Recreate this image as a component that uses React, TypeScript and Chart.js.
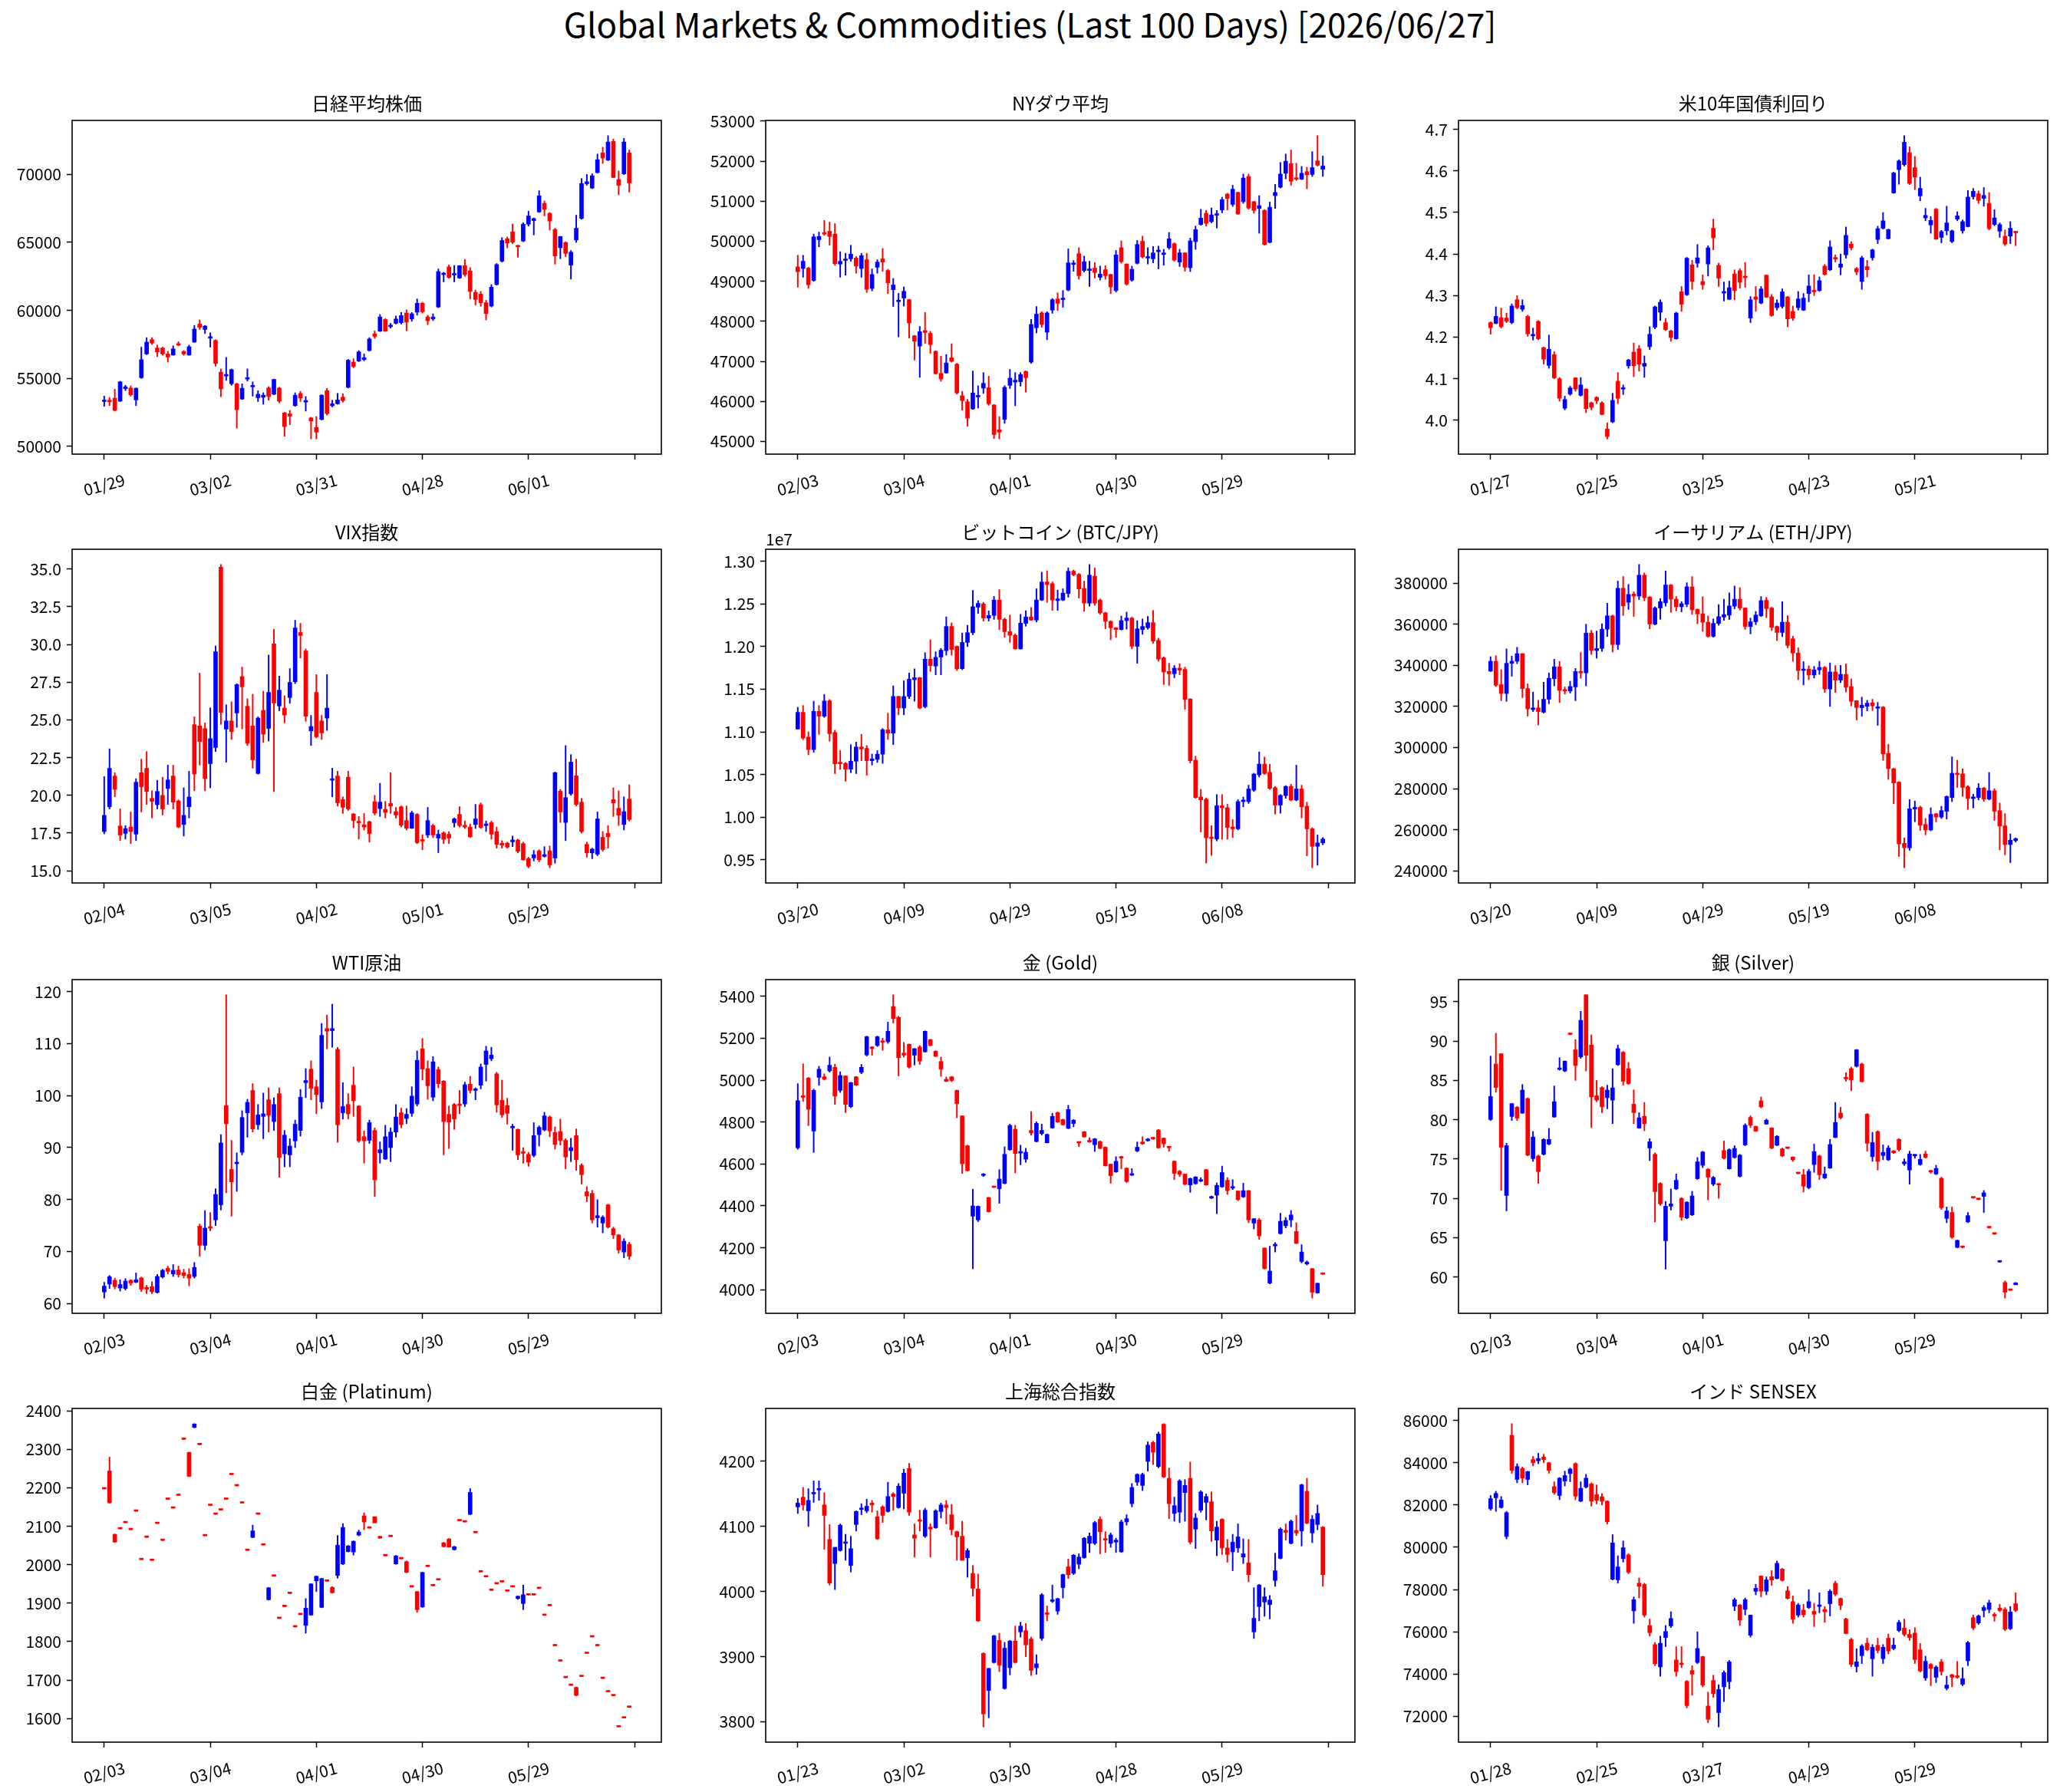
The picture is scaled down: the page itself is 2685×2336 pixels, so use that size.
import React, { useEffect, useRef } from "react";
import { Chart, registerables } from "chart.js";

Chart.register(...registerables);

// Candle tuples: [open, high, low, close]
type Candle = [number, number, number, number];

const FONT = '"Noto Sans CJK JP", "Noto Sans", sans-serif';
Chart.defaults.font.family = FONT;
const UP = "#0000ff";
const DOWN = "#ff0000";

const SUPTITLE = "Global Markets & Commodities (Last 100 Days) [2026/06/27]";

const NIKKEI_DATES = ["01/29", "03/02", "03/31", "04/28", "06/01"];
const DOW_DATES = ["02/03", "03/04", "04/01", "04/30", "05/29"];
const UST10Y_DATES = ["01/27", "02/25", "03/25", "04/23", "05/21"];
const VIX_DATES = ["02/04", "03/05", "04/02", "05/01", "05/29"];
const CRYPTO_DATES = ["03/20", "04/09", "04/29", "05/19", "06/08"];
const COMMODITY_DATES = ["02/03", "03/04", "04/01", "04/30", "05/29"];
const SHANGHAI_DATES = ["01/23", "03/02", "03/30", "04/28", "05/29"];
const SENSEX_DATES = ["01/28", "02/25", "03/27", "04/29", "05/29"];

const NIKKEI: Candle[] = [
  [53300,53700,52950,53400],[53400,53600,53000,53280],[53550,54200,52600,52650],[53330,54800,53300,54750],[54250,54500,54100,54380],
  [54300,54450,53700,53800],[53420,54300,53000,54280],[55050,57300,55000,56380],[56800,58000,56750,57670],[57850,58000,57500,57600],
  [57240,57450,56600,56950],[57240,57300,56700,56800],[56800,57000,56200,56570],[56720,57400,56700,57170],[57550,57700,57400,57450],
  [56980,57050,56700,56800],[56720,57450,56700,57330],[57670,58900,57650,58630],[59000,59300,58600,58760],[58600,58900,58300,58850],
  [57960,58350,57300,58070],[57800,57850,55900,56100],[55460,55700,53650,54230],[55180,56550,54850,55290],[54610,55700,54500,55650],
  [54600,54650,51350,52700],[53480,54600,53450,54280],[54950,55700,54800,55050],[54380,54750,53700,54480],[53580,54100,53300,53840],
  [53620,53950,53100,53770],[54300,54400,53400,53670],[53840,54950,53800,54930],[54300,54350,53200,53330],[52470,52500,50750,51460],
  [52400,52650,51600,52230],[53000,53950,52950,53770],[53900,54050,53300,53560],[53260,53670,52600,53370],[52100,52150,50550,51870],
  [51400,52200,50550,51050],[51980,53800,51950,53770],[54100,54270,52300,52420],[52990,53400,52900,53140],[53140,53900,53100,53420],
  [53620,53870,53250,53370],[54340,56400,54300,56340],[56200,56450,55780,55870],[56280,57050,56230,56950],[56380,56800,56300,56530],
  [57050,58000,57000,57900],[58280,58500,57950,58090],[58470,59700,58450,59520],[59330,59400,58450,58470],[58800,59050,58700,58920],
  [59050,59600,59000,59370],[59100,59850,59000,59620],[59810,60050,58500,59140],[59370,59850,59200,59750],[59870,60850,59650,60530],
  [60530,60600,59800,59900],[59520,59650,58950,59240],[59370,59750,59250,59520],[60250,63050,60200,62860],[62630,62800,62100,62720],
  [63200,63350,62350,62420],[62600,63300,62100,62720],[62380,63300,62350,63290],[63290,63750,62500,62630],[62900,63150,60850,61400],
  [61330,61500,60400,60800],[61200,61400,60300,60570],[60570,60750,59300,59770],[60320,61900,60250,61710],[61900,63450,61850,63370],
  [63620,65350,63550,65140],[65270,65400,64600,64950],[65770,66350,64900,65010],[64760,64800,63900,64670],[65100,66450,65050,66340],
  [66340,67300,66200,66950],[66600,66800,65550,66750],[67240,68800,67200,68420],[67870,68050,66950,67430],[67140,67200,65900,66570],
  [65940,66050,63400,64000],[64610,65450,63800,65430],[64990,65050,63950,64190],[63330,64400,62300,64280],[65180,67000,65000,66040],
  [66760,69700,66700,69330],[69310,70000,69200,69460],[68990,70050,68950,69900],[70130,71500,70100,71080],[71580,72000,70800,71200],
  [71050,72850,71000,72380],[72420,72600,69750,69770],[69620,70250,68500,69200],[70040,72650,69990,72380],[71580,71800,68700,69370],
];

const DOW: Candle[] = [
  [49360,49650,48850,49240],[49320,49650,49100,49500],[49330,49350,48820,48915],[49020,50180,49000,50110],[50040,50230,49860,50120],
  [50210,50520,50150,50180],[50250,50480,49900,50120],[50180,50440,49400,49440],[49430,49740,49100,49500],[49520,49700,49150,49540],
  [49560,49900,49500,49680],[49580,49620,49200,49380],[49320,49700,49100,49640],[49540,49700,48720,48800],[48820,49310,48760,49170],
  [49350,49540,49200,49480],[49560,49820,49250,49480],[49270,49300,48690,48960],[48790,49070,48370,48910],[48490,48700,47610,48510],
  [48580,48860,48380,48750],[48540,48550,47580,47960],[47640,47650,47030,47500],[47380,47870,46600,47740],[47770,48220,47450,47720],
  [47700,47750,47200,47420],[47250,47260,46680,46690],[46700,47130,46500,46560],[46710,47170,46700,46960],[47090,47440,46980,47000],
  [46930,46950,46180,46210],[46140,46250,45780,46020],[45990,46050,45380,45580],[45810,46760,45800,46210],[46110,46390,45830,46130],
  [46330,46720,46200,46450],[46340,46630,45900,45940],[45910,45920,45070,45170],[45290,45620,45060,45230],[45550,46390,45450,46350],
  [46400,46800,46320,46580],[46480,46720,45890,46530],[46490,46720,46380,46670],[46750,46760,46230,46590],[46980,48050,46950,47920],
  [47840,48370,47710,48180],[48210,48240,47850,47920],[47730,48240,47540,48210],[48280,48570,48200,48540],[48560,48710,48270,48450],
  [48540,48770,48350,48580],[48780,49810,48760,49460],[49420,49520,49250,49450],[49690,49840,49050,49140],[49270,49630,49230,49490],
  [49270,49500,48870,49300],[49330,49470,49080,49220],[49100,49380,49030,49180],[49290,49390,49050,49140],[49170,49180,48690,48860],
  [48770,49770,48730,49660],[49840,50010,49450,49490],[49430,49440,48900,48930],[49030,49380,49000,49300],[49450,50020,49430,49920],
  [50000,50130,49580,49610],[49580,49840,49430,49610],[49560,49870,49460,49710],[49740,49880,49310,49780],[49670,49800,49400,49700],
  [49840,50220,49800,50060],[49940,49960,49500,49530],[49480,49800,49370,49710],[49710,49720,49250,49350],[49340,50080,49240,50010],
  [49990,50380,49800,50290],[50420,50800,50400,50580],[50700,50770,50380,50450],[50490,50830,50460,50660],[50650,50770,50330,50670],
  [50780,51100,50710,51040],[51180,51200,50780,51070],[50920,51400,50870,51300],[51220,51230,50670,50680],[50990,51680,50950,51580],
  [51620,51680,50800,50830],[50990,51000,50700,50770],[50820,51140,50200,50890],[50770,50790,49900,49920],[49970,50980,49960,50850],
  [51140,51420,50820,51220],[51350,51970,51330,51680],[51700,52180,51560,52000],[51940,52280,51400,51500],[51580,51950,51520,51550],
  [51550,51870,51540,51700],[51740,51850,51310,51660],[51670,52240,51620,51840],[52010,52640,51880,51900],[51800,52130,51620,51880],
];

const UST10Y: Candle[] = [
  [4.235,4.237,4.207,4.223],[4.233,4.273,4.232,4.250],[4.247,4.270,4.222,4.225],[4.246,4.258,4.235,4.238],[4.235,4.280,4.232,4.275],
  [4.290,4.300,4.268,4.271],[4.267,4.290,4.262,4.276],[4.250,4.253,4.202,4.208],[4.203,4.222,4.193,4.206],[4.238,4.240,4.194,4.196],
  [4.175,4.176,4.135,4.147],[4.132,4.205,4.125,4.171],[4.158,4.165,4.100,4.102],[4.100,4.103,4.046,4.053],[4.029,4.058,4.025,4.050],
  [4.063,4.082,4.060,4.078],[4.102,4.103,4.070,4.075],[4.060,4.103,4.058,4.085],[4.075,4.076,4.018,4.028],[4.042,4.044,4.025,4.031],
  [4.055,4.057,4.040,4.047],[4.042,4.045,4.013,4.014],[3.979,3.994,3.955,3.961],[3.996,4.065,3.994,4.048],[4.094,4.115,4.040,4.053],
  [4.075,4.085,4.062,4.078],[4.131,4.147,4.125,4.145],[4.164,4.186,4.105,4.131],[4.172,4.180,4.118,4.135],[4.130,4.155,4.103,4.137],
  [4.177,4.225,4.170,4.207],[4.224,4.275,4.220,4.273],[4.260,4.290,4.240,4.284],[4.235,4.245,4.216,4.218],[4.215,4.217,4.190,4.199],
  [4.196,4.260,4.195,4.258],[4.309,4.322,4.262,4.279],[4.302,4.392,4.300,4.390],[4.374,4.385,4.315,4.334],[4.378,4.423,4.368,4.391],
  [4.334,4.350,4.315,4.326],[4.376,4.420,4.347,4.415],[4.462,4.484,4.410,4.439],[4.373,4.378,4.322,4.342],[4.306,4.333,4.287,4.310],
  [4.291,4.335,4.290,4.319],[4.352,4.362,4.290,4.312],[4.360,4.365,4.318,4.332],[4.346,4.380,4.320,4.343],[4.246,4.298,4.235,4.290],
  [4.297,4.322,4.262,4.291],[4.282,4.322,4.280,4.316],[4.349,4.350,4.295,4.296],[4.297,4.303,4.250,4.252],[4.271,4.290,4.265,4.282],
  [4.274,4.316,4.270,4.309],[4.297,4.298,4.225,4.244],[4.262,4.275,4.240,4.246],[4.271,4.310,4.265,4.292],[4.265,4.305,4.264,4.294],
  [4.305,4.350,4.285,4.323],[4.312,4.350,4.300,4.309],[4.312,4.345,4.310,4.336],[4.371,4.375,4.349,4.351],[4.362,4.432,4.360,4.417],
  [4.391,4.398,4.381,4.388],[4.368,4.400,4.350,4.376],[4.398,4.465,4.390,4.445],[4.424,4.430,4.410,4.415],[4.365,4.368,4.350,4.357],
  [4.334,4.395,4.315,4.391],[4.370,4.385,4.345,4.362],[4.391,4.412,4.385,4.410],[4.435,4.467,4.425,4.461],[4.462,4.500,4.460,4.480],
  [4.437,4.460,4.436,4.459],[4.547,4.597,4.546,4.595],[4.603,4.627,4.568,4.624],[4.615,4.685,4.612,4.669],[4.644,4.658,4.567,4.570],
  [4.608,4.635,4.555,4.585],[4.540,4.585,4.528,4.558],[4.487,4.510,4.480,4.493],[4.470,4.490,4.450,4.481],[4.508,4.510,4.435,4.436],
  [4.440,4.457,4.427,4.454],[4.456,4.515,4.446,4.475],[4.430,4.458,4.427,4.456],[4.484,4.502,4.480,4.492],[4.456,4.482,4.450,4.478],
  [4.466,4.553,4.465,4.537],[4.538,4.558,4.532,4.551],[4.545,4.552,4.522,4.529],[4.534,4.560,4.515,4.541],[4.522,4.548,4.458,4.461],
  [4.471,4.507,4.468,4.487],[4.455,4.475,4.440,4.471],[4.443,4.458,4.420,4.424],[4.443,4.478,4.425,4.462],[4.453,4.455,4.420,4.451],
];

const VIX: Candle[] = [
  [17.60,21.25,17.45,18.67],[19.24,23.08,19.10,21.79],[21.28,21.50,19.90,20.40],[17.97,19.10,17.00,17.37],[17.48,18.00,17.10,17.80],
  [17.90,18.90,16.80,17.60],[17.43,21.10,17.00,20.87],[21.50,22.40,18.90,20.57],[21.79,22.90,19.40,20.26],[19.80,20.30,18.50,19.60],
  [19.38,21.00,19.10,20.26],[20.00,21.20,18.70,19.10],[20.45,22.00,19.40,21.02],[21.28,22.00,19.10,19.55],[19.63,19.70,17.85,17.90],
  [18.07,20.50,17.30,18.67],[19.24,21.60,18.50,19.89],[24.68,25.20,20.30,21.42],[24.60,28.10,22.00,23.57],[24.42,24.80,20.30,21.11],
  [22.10,25.80,20.50,23.76],[23.17,29.90,22.90,29.52],[35.12,35.30,24.70,25.49],[24.39,26.00,22.20,24.93],[24.93,26.20,23.70,24.22],
  [25.46,27.40,24.50,27.34],[27.87,28.50,24.40,27.19],[25.90,26.40,23.30,23.45],[24.60,26.70,21.80,22.35],[21.45,25.20,21.40,25.12],
  [25.63,26.90,23.50,24.05],[24.44,29.30,23.60,26.82],[30.04,31.00,20.25,26.12],[25.92,27.90,25.60,26.97],[25.78,26.60,24.80,25.32],
  [26.48,28.40,26.10,27.48],[27.53,31.60,27.40,31.09],[30.79,31.40,29.10,30.59],[29.57,29.70,24.90,25.24],[24.27,25.30,23.30,24.56],
  [26.82,28.00,23.80,23.88],[24.93,25.30,23.70,24.13],[25.12,28.00,24.30,25.78],[21.00,21.80,19.90,21.05],[21.28,21.60,19.30,19.50],
  [19.72,19.90,18.80,19.21],[21.20,21.60,19.00,19.10],[18.77,18.80,17.85,18.33],[18.25,18.60,17.10,18.18],[18.05,18.80,17.70,17.90],
  [18.25,18.30,16.90,17.46],[19.58,20.00,18.70,18.82],[19.12,20.80,18.60,19.55],[19.07,19.60,18.50,18.87],[19.46,21.50,18.80,19.29],
  [18.92,19.20,18.50,18.70],[19.24,19.30,17.90,18.02],[18.33,19.30,17.70,17.82],[17.82,18.95,17.80,18.84],[18.74,18.80,16.80,16.87],
  [17.04,17.40,16.40,16.97],[17.37,19.20,17.20,18.33],[17.99,18.10,17.20,17.37],[17.17,17.70,16.20,17.42],[17.51,17.60,16.80,17.08],
  [17.42,17.60,16.80,17.17],[18.19,18.50,17.90,18.44],[18.74,19.25,17.90,17.99],[18.02,18.30,17.80,17.90],[17.90,18.10,17.20,17.25],
  [18.07,19.40,17.80,18.44],[19.38,19.50,17.80,17.87],[18.00,18.30,17.60,18.07],[18.19,18.30,17.10,17.43],[17.60,17.90,16.50,16.75],
  [16.83,17.00,16.50,16.70],[16.83,16.90,16.50,16.57],[16.92,17.30,16.60,17.04],[17.04,17.10,16.20,16.29],[16.80,16.90,15.70,15.73],
  [15.81,15.90,15.20,15.30],[15.85,16.35,15.65,16.07],[16.32,16.40,15.60,15.73],[15.95,16.60,15.90,16.07],[16.32,16.65,15.20,15.39],
  [15.85,21.55,15.50,21.50],[20.28,20.40,18.20,18.90],[18.20,23.30,17.00,19.85],[20.10,22.70,20.00,22.20],[21.30,22.40,19.30,19.40],
  [19.55,19.80,17.50,17.60],[16.75,16.90,15.90,16.19],[16.19,16.50,15.80,16.44],[16.10,18.90,16.00,18.44],[17.22,17.60,16.30,16.41],
  [17.48,18.00,16.50,17.26],[19.72,20.50,18.60,19.50],[19.14,20.30,18.00,18.68],[18.07,19.90,17.70,18.92],[19.75,20.70,18.30,18.40],
];

// BTC/JPY in units of 1e7 JPY
const BTC: Candle[] = [
  [1.1033,1.1289,1.1030,1.1229],[1.1229,1.1310,1.0910,1.0927],[1.0939,1.1000,1.0730,1.0792],[1.0792,1.1360,1.0760,1.1241],[1.1241,1.1310,1.0970,1.1184],
  [1.1184,1.1440,1.1170,1.1362],[1.1365,1.1380,1.0890,1.0979],[1.0994,1.1020,1.0510,1.0626],[1.0632,1.0780,1.0560,1.0626],[1.0632,1.0640,1.0420,1.0562],
  [1.0562,1.0850,1.0520,1.0656],[1.0656,1.0880,1.0510,1.0822],[1.0822,1.0970,1.0660,1.0798],[1.0807,1.0840,1.0490,1.0662],[1.0662,1.0740,1.0610,1.0683],
  [1.0677,1.0780,1.0640,1.0738],[1.0738,1.1040,1.0630,1.1024],[1.1024,1.1220,1.0910,1.0985],[1.0985,1.1540,1.0850,1.1416],[1.1416,1.1420,1.1200,1.1280],
  [1.1280,1.1600,1.1200,1.1416],[1.1416,1.1690,1.1390,1.1618],[1.1612,1.1740,1.1360,1.1636],[1.1636,1.1640,1.1270,1.1280],[1.1295,1.1930,1.1280,1.1854],
  [1.1854,1.2080,1.1710,1.1778],[1.1772,1.1940,1.1670,1.1875],[1.1878,1.1980,1.1670,1.1959],[1.1953,1.2350,1.1900,1.2237],[1.2237,1.2280,1.1900,1.1968],
  [1.2004,1.2010,1.1720,1.1739],[1.1742,1.2160,1.1730,1.2050],[1.2050,1.2250,1.2000,1.2164],[1.2164,1.2660,1.2140,1.2469],[1.2463,1.2540,1.2390,1.2508],
  [1.2502,1.2520,1.2300,1.2336],[1.2336,1.2420,1.2300,1.2366],[1.2366,1.2590,1.2320,1.2547],[1.2547,1.2670,1.2200,1.2321],[1.2321,1.2336,1.2110,1.2176],
  [1.2176,1.2370,1.2050,1.2134],[1.2134,1.2150,1.1970,1.1974],[1.1974,1.2380,1.1970,1.2276],[1.2273,1.2422,1.2240,1.2349],[1.2349,1.2460,1.2310,1.2312],
  [1.2312,1.2680,1.2290,1.2547],[1.2547,1.2875,1.2540,1.2759],[1.2759,1.2890,1.2520,1.2728],[1.2740,1.2760,1.2425,1.2547],[1.2541,1.2665,1.2425,1.2562],
  [1.2547,1.2680,1.2539,1.2629],[1.2623,1.2925,1.2580,1.2885],[1.2885,1.2900,1.2830,1.2843],[1.2849,1.2860,1.2570,1.2677],[1.2683,1.2770,1.2415,1.2511],
  [1.2511,1.2965,1.2475,1.2840],[1.2828,1.2925,1.2485,1.2511],[1.2547,1.2560,1.2380,1.2397],[1.2397,1.2405,1.2210,1.2297],[1.2297,1.2305,1.2080,1.2222],
  [1.2222,1.2225,1.2110,1.2201],[1.2201,1.2360,1.2195,1.2306],[1.2306,1.2405,1.2205,1.2336],[1.2336,1.2346,1.1975,1.2004],[1.2004,1.2305,1.1805,1.2209],
  [1.2201,1.2325,1.2145,1.2237],[1.2222,1.2355,1.2205,1.2282],[1.2282,1.2425,1.2040,1.2065],[1.2074,1.2100,1.1830,1.1854],[1.1869,1.1880,1.1555,1.1703],
  [1.1709,1.1805,1.1545,1.1682],[1.1682,1.1780,1.1635,1.1748],[1.1748,1.1800,1.1670,1.1724],[1.1733,1.1760,1.1265,1.1380],[1.1386,1.1390,1.0635,1.0662],
  [1.0668,1.0715,1.0220,1.0230],[1.0236,1.0325,0.9825,1.0203],[1.0209,1.0225,0.9460,0.9757],[0.9766,0.9900,0.9550,0.9748],[0.9742,1.0265,0.9720,1.0134],
  [1.0134,1.0265,0.9740,1.0110],[1.0110,1.0150,0.9740,0.9878],[0.9884,0.9970,0.9760,0.9862],[0.9862,1.0205,0.9850,1.0182],[1.0182,1.0235,1.0120,1.0197],
  [1.0182,1.0375,1.0160,1.0330],[1.0315,1.0515,1.0300,1.0505],[1.0496,1.0765,1.0470,1.0622],[1.0622,1.0705,1.0500,1.0511],[1.0526,1.0620,1.0325,1.0336],
  [1.0345,1.0360,1.0035,1.0140],[1.0140,1.0265,1.0045,1.0255],[1.0252,1.0370,1.0220,1.0360],[1.0360,1.0385,1.0190,1.0200],[1.0200,1.0610,1.0190,1.0330],
  [1.0330,1.0375,0.9990,1.0119],[1.0128,1.0175,0.9545,0.9862],[0.9862,0.9875,0.9405,0.9657],[0.9657,0.9790,0.9435,0.9696],[0.9697,0.9760,0.9675,0.9742],
];

const ETH: Candle[] = [
  [337200,344200,337000,342000],[342000,344700,329700,330300],[330600,337900,322800,326300],[326300,348000,322500,341000],[341000,344500,334700,342000],
  [342000,348800,340800,345700],[345700,345800,324300,328700],[328700,331000,315300,318800],[318500,327000,317500,319300],[319300,323000,311000,317500],
  [317200,331800,316800,323500],[323500,336300,321300,333700],[333500,343000,330000,339300],[339300,341900,321900,327800],[328100,329500,326000,327500],
  [327500,332300,326500,329700],[329500,338500,322800,337000],[337000,346300,333700,336300],[336300,360000,330000,355700],[355700,357000,345300,347200],
  [347200,356700,343500,348200],[348200,360200,346800,357600],[357600,370200,354000,364100],[364100,364500,346500,350100],[350100,381000,347700,377500],
  [377500,383200,364300,368900],[370700,379400,367200,374500],[374700,375800,363800,373700],[373700,389100,372000,383900],[383900,385000,371400,372900],
  [373200,373500,357700,360100],[360000,368500,359700,367900],[367900,372500,362400,371000],[370400,385900,368800,379100],[379100,379400,365800,372200],
  [372200,373500,366500,368500],[368500,371000,366000,370000],[369700,380200,368500,378200],[378200,383200,364800,367000],[367200,367500,360200,365000],
  [365100,373400,356500,361000],[361000,364000,353600,354100],[354100,362600,353700,360400],[360400,369600,359500,363700],[363500,372200,361900,364700],
  [364400,375300,362300,368900],[368800,378600,367500,372200],[372200,377800,366900,367900],[367900,368000,357500,358900],[358900,363000,355300,361200],
  [361200,366200,359800,364500],[364100,373500,363700,371500],[371700,373100,363200,367600],[367900,368300,356900,358500],[358900,359200,352000,356000],
  [356000,371000,354000,361000],[361000,364200,348500,349700],[352900,354200,342000,346000],[346000,348500,333000,337500],[337500,341800,330500,338200],
  [338200,339800,333000,335300],[335300,339500,333800,337800],[337800,342000,335600,339000],[339000,339500,326800,328500],[328500,341200,320000,336800],
  [336800,339900,326800,332800],[332800,340000,331600,335600],[335600,340700,327000,329300],[329700,333400,320200,322500],[322800,322900,313400,319500],
  [319400,324500,315200,320600],[320100,323000,317800,321600],[321800,323500,318000,320300],[319100,322000,310800,319700],[319700,320000,293800,296900],
  [297200,301600,284500,289700],[289700,289900,272700,282800],[283200,283500,247000,253100],[253400,256000,241500,251300],[251200,274700,250000,270200],
  [270100,274000,263900,270900],[270900,271500,259700,262200],[262600,265500,257500,259900],[259900,270700,259500,267500],[267800,268000,263800,266200],
  [266200,271400,265500,269300],[269000,276500,265200,276200],[275700,295500,273700,287500],[287500,293900,280600,286800],[287200,289700,276200,280600],
  [280900,281500,269900,275200],[275200,277300,270600,276000],[275700,282500,274500,280300],[280300,280700,273800,274900],[274900,287900,274500,279000],
  [279000,280000,264500,269000],[269300,273000,250200,261800],[261900,267900,247800,252800],[252800,258000,244000,254900],[254700,256100,254000,255700],
];

const WTI: Candle[] = [
  [62.22,64.10,61.04,63.35],[63.75,65.40,62.90,65.17],[64.48,64.90,62.80,63.25],[63.00,64.60,62.40,63.65],[62.90,64.80,62.60,64.33],
  [64.48,64.60,63.50,63.94],[64.10,65.90,64.00,64.57],[64.93,65.10,62.30,62.76],[63.10,63.50,61.90,62.76],[63.25,64.20,61.90,62.27],
  [62.12,65.60,62.00,65.22],[65.10,66.60,64.90,66.40],[66.80,67.20,65.70,66.20],[65.70,67.50,65.20,66.40],[66.45,67.20,65.10,65.57],
  [65.95,66.60,64.90,65.40],[65.60,66.70,63.40,64.90],[65.20,67.90,64.90,66.95],[74.90,75.30,69.10,71.20],[71.20,77.90,70.30,74.50],
  [74.80,77.50,74.00,74.50],[76.10,82.10,75.00,81.00],[79.00,92.50,78.00,90.90],[98.10,119.40,81.30,94.60],[85.80,91.40,76.80,83.40],
  [86.90,89.00,81.60,87.20],[89.10,97.10,88.60,95.80],[96.70,99.30,92.00,98.70],[101.00,102.30,93.00,93.60],[94.40,98.30,93.50,96.30],
  [96.00,100.50,91.70,96.50],[99.20,101.50,93.00,96.20],[95.00,99.60,93.30,98.30],[100.40,101.50,84.30,88.10],[88.80,93.30,86.30,92.40],
  [88.60,91.70,86.30,90.30],[91.30,95.30,90.00,94.50],[93.30,101.20,92.20,99.70],[102.50,105.20,99.60,102.90],[105.10,106.70,99.20,101.40],
  [101.70,103.00,96.50,100.20],[98.80,113.90,97.50,111.60],[112.90,115.50,109.00,112.40],[112.50,117.60,109.30,112.90],[108.90,109.30,91.00,94.40],
  [96.70,102.50,95.50,97.90],[98.30,100.40,95.50,96.50],[102.00,105.50,96.00,99.00],[98.00,98.10,91.00,91.30],[92.10,93.20,87.00,91.30],
  [91.40,95.30,90.80,94.80],[93.30,93.80,80.60,83.80],[89.00,91.10,87.00,89.60],[87.80,94.30,87.70,92.10],[90.00,93.80,87.30,93.00],
  [93.00,98.30,92.00,95.90],[96.70,97.60,93.80,94.40],[95.60,97.50,94.60,96.40],[96.60,101.70,96.00,99.90],[98.40,108.60,98.00,106.80],
  [109.00,111.00,103.00,105.10],[105.20,106.70,99.30,101.90],[99.70,107.50,99.00,106.50],[105.00,105.50,101.50,102.30],[102.80,102.90,88.60,95.00],
  [96.40,98.00,89.80,94.90],[98.30,98.50,93.50,95.50],[98.20,101.00,96.50,98.10],[98.40,102.60,97.90,102.10],[102.20,103.70,100.50,101.00],
  [101.00,101.50,99.20,101.30],[102.00,106.10,101.30,105.50],[106.00,109.50,102.80,108.60],[107.10,109.30,106.70,107.80],[104.20,104.50,96.80,98.20],
  [99.10,103.00,95.80,96.30],[98.10,99.50,94.50,96.60],[93.80,94.50,89.50,93.90],[93.50,93.60,87.70,88.60],[89.20,90.00,87.00,88.90],
  [88.70,89.10,86.40,87.20],[88.50,94.80,88.20,92.30],[92.50,94.20,90.30,93.90],[93.40,96.80,93.20,96.10],[95.90,96.10,92.10,93.20],
  [92.90,94.00,89.70,90.60],[93.10,95.50,90.50,91.40],[91.40,91.70,85.90,88.20],[89.40,91.80,87.30,90.00],[92.30,93.60,85.60,87.70],
  [86.60,86.90,83.00,84.80],[81.50,82.50,79.60,80.70],[81.20,81.80,75.50,76.10],[76.50,80.00,74.70,76.90],[75.50,76.90,73.60,76.60],
  [79.00,79.10,74.50,74.70],[74.40,74.70,72.50,73.20],[73.20,73.30,69.70,70.30],[69.90,72.50,68.80,72.00],[71.40,71.80,68.50,69.10],
];

const GOLD: Candle[] = [
  [4677,4983,4670,4902],[4924,5078,4898,4918],[5010,5013,4783,4861],[4757,4957,4655,4951],[5013,5066,4975,5052],
  [5016,5030,5000,5004],[5044,5110,5038,5071],[5061,5076,4884,4924],[4951,5040,4941,5022],[5020,5021,4845,4884],
  [4873,4990,4868,4988],[5016,5018,4974,4976],[5037,5075,5030,5061],[5120,5210,5115,5207],[5158,5160,5118,5150],
  [5165,5210,5160,5207],[5182,5200,5142,5180],[5183,5277,5175,5233],[5351,5407,5272,5293],[5299,5305,5020,5107],
  [5129,5180,5110,5119],[5171,5173,5057,5062],[5119,5151,5072,5150],[5158,5165,5075,5091],[5135,5235,5133,5233],
  [5193,5195,5163,5165],[5138,5140,5112,5113],[5089,5110,5018,5052],[5004,5015,4992,4994],[5016,5018,4992,4998],
  [4951,4953,4820,4888],[4829,4830,4555,4601],[4687,4690,4566,4568],[4351,4480,4100,4400],[4333,4400,4325,4398],
  [4545,4555,4540,4548],[4440,4441,4370,4372],[4490,4491,4487,4488],[4482,4573,4412,4528],[4507,4682,4505,4646],
  [4668,4790,4665,4784],[4766,4785,4558,4650],[4652,4690,4596,4659],[4623,4675,4608,4656],[4760,4850,4738,4748],
  [4707,4801,4705,4794],[4745,4790,4738,4760],[4701,4743,4700,4741],[4772,4842,4770,4827],[4845,4848,4798,4800],
  [4812,4814,4785,4787],[4770,4880,4768,4860],[4793,4812,4777,4809],[4702,4705,4683,4700],[4754,4755,4728,4729],
  [4713,4725,4703,4705],[4692,4722,4660,4720],[4707,4710,4672,4674],[4680,4682,4590,4591],[4599,4600,4508,4544],
  [4562,4635,4560,4613],[4635,4637,4577,4628],[4580,4582,4511,4516],[4546,4578,4545,4554],[4662,4705,4658,4680],
  [4705,4730,4693,4696],[4711,4722,4708,4719],[4727,4728,4717,4719],[4762,4765,4675,4677],[4723,4725,4680,4696],
  [4678,4680,4660,4677],[4613,4615,4525,4555],[4565,4570,4540,4550],[4552,4553,4500,4503],[4500,4533,4465,4531],
  [4506,4540,4503,4538],[4518,4535,4515,4524],[4573,4575,4498,4500],[4437,4447,4435,4445],[4451,4510,4363,4498],
  [4491,4590,4488,4559],[4522,4535,4455,4473],[4485,4525,4478,4491],[4471,4472,4425,4430],[4443,4508,4440,4473],
  [4473,4474,4320,4333],[4318,4340,4290,4339],[4333,4340,4240,4257],[4199,4200,4098,4101],[4032,4208,4028,4089],
  [4209,4225,4180,4217],[4268,4365,4265,4327],[4305,4345,4295,4331],[4333,4378,4300,4357],[4278,4320,4220,4221],
  [4135,4215,4128,4180],[4123,4138,4118,4132],[4101,4102,3960,3988],[3985,4032,3983,4031],[4076,4077,4073,4074],
];

const SILVER: Candle[] = [
  [80.03,88.10,79.90,82.96],[87.09,91.00,83.50,84.10],[88.40,88.40,71.00,76.50],[70.36,77.00,68.40,76.71],[80.42,82.10,79.90,82.05],
  [81.60,81.70,79.90,80.20],[80.84,84.50,80.80,83.77],[82.70,82.80,75.40,75.50],[75.05,78.50,74.70,77.80],[75.40,75.50,71.90,73.40],
  [75.60,77.60,75.50,77.50],[76.90,78.90,76.80,77.50],[80.35,84.30,80.30,82.30],[86.40,87.90,86.30,86.50],[86.20,87.50,86.10,87.45],
  [90.90,90.90,90.80,90.85],[88.90,90.20,85.00,86.90],[88.00,93.80,87.80,92.65],[95.90,95.90,86.20,88.20],[89.50,90.80,79.00,82.90],
  [83.05,85.00,82.30,82.50],[84.10,84.20,80.90,81.65],[82.80,84.40,81.40,83.77],[82.50,86.50,79.50,84.05],[87.00,89.50,86.90,89.05],
  [88.60,88.70,84.40,84.90],[86.50,87.30,84.50,84.60],[81.98,83.80,79.50,80.90],[78.95,80.90,78.90,80.25],[80.45,82.20,78.60,79.50],
  [76.40,77.60,74.80,77.20],[75.60,75.80,67.00,70.85],[71.90,72.00,69.10,69.30],[64.60,69.60,61.00,69.00],[69.00,71.20,68.50,69.30],
  [71.20,73.10,71.10,72.30],[70.00,70.10,67.20,67.60],[67.50,69.60,67.40,69.50],[67.90,70.90,67.80,70.30],[72.50,75.20,72.40,74.65],
  [74.20,76.00,73.90,75.90],[73.70,73.80,69.80,72.70],[71.80,72.80,71.60,72.65],[71.80,71.90,70.00,71.70],[76.10,77.30,75.00,75.10],
  [73.75,76.30,73.70,76.20],[75.20,76.70,75.10,76.35],[72.80,75.60,72.70,75.50],[76.80,79.50,76.70,79.30],[80.30,80.50,79.00,79.30],
  [79.15,79.20,78.50,78.55],[82.40,82.90,81.50,81.65],[79.45,80.10,79.40,79.95],[78.95,79.00,76.30,76.40],[76.75,78.00,76.70,77.90],
  [76.30,76.40,75.30,75.40],[76.40,76.50,76.30,76.35],[75.25,75.30,74.70,74.90],[73.20,73.25,73.10,73.15],[73.00,73.70,70.80,71.55],
  [71.35,73.70,71.20,73.45],[74.30,76.90,73.30,75.95],[75.40,75.50,72.40,73.00],[72.60,74.00,72.50,73.10],[73.85,77.50,73.80,76.85],
  [77.75,82.20,77.70,79.65],[80.85,81.60,80.10,80.25],[85.40,86.00,84.90,85.20],[86.50,86.70,83.70,85.05],[86.80,88.95,86.70,88.90],
  [87.10,87.20,84.80,84.85],[80.70,80.80,76.00,77.00],[75.30,78.40,74.70,77.10],[78.50,78.60,73.60,74.70],[75.45,76.80,74.90,75.85],
  [74.90,76.70,74.80,76.40],[76.05,76.10,75.70,75.80],[77.50,77.60,76.00,76.20],[74.40,75.00,74.20,74.65],[73.60,76.00,71.80,75.65],
  [75.40,75.60,75.10,75.55],[74.30,75.60,74.20,74.95],[75.65,76.00,75.10,75.20],[73.50,73.60,73.20,73.35],[73.10,74.20,73.00,73.80],
  [72.55,72.70,68.60,68.80],[67.45,68.90,66.90,68.40],[68.20,68.90,64.90,65.05],[63.75,64.70,63.70,64.65],[63.90,63.95,63.70,63.75],
  [67.00,68.20,66.90,67.80],[70.10,70.15,70.00,70.05],[69.90,69.95,69.80,69.85],[70.25,71.00,68.20,70.70],[66.30,66.35,66.20,66.25],
  [65.50,65.55,65.40,65.45],[61.90,61.95,61.85,61.95],[59.30,59.50,57.30,58.05],[58.35,58.40,58.25,58.30],[59.00,59.30,59.00,59.25],
];

const PLATINUM: Candle[] = [
  [2197,2197,2197,2197],[2244,2280,2160,2161],[2079,2080,2058,2059],[2093,2093,2093,2093],[2109,2109,2109,2109],
  [2091,2091,2091,2091],[2139,2139,2139,2139],[2013,2013,2013,2013],[2071,2071,2071,2071],[2011,2011,2011,2011],
  [2107,2107,2107,2107],[2063,2063,2063,2063],[2170,2170,2170,2170],[2147,2147,2147,2147],[2180,2180,2180,2180],
  [2326,2326,2326,2326],[2292,2293,2229,2230],[2357,2367,2356,2366],[2312,2312,2312,2312],[2075,2075,2075,2075],
  [2154,2154,2154,2154],[2131,2131,2131,2131],[2142,2142,2142,2142],[2170,2170,2170,2170],[2234,2234,2234,2234],
  [2205,2205,2205,2205],[2160,2160,2160,2160],[2037,2037,2037,2037],[2071,2103,2070,2088],[2131,2131,2131,2131],
  [2051,2051,2051,2051],[1909,1941,1908,1940],[1970,1970,1970,1970],[1860,1860,1860,1860],[1891,1891,1891,1891],
  [1925,1925,1925,1925],[1838,1838,1838,1838],[1870,1870,1870,1870],[1842,1912,1822,1887],[1869,1951,1868,1950],
  [1958,1971,1930,1970],[1889,1965,1888,1964],[1957,1957,1957,1957],[1941,1943,1926,1927],[1972,2076,1965,2051],
  [2002,2107,2000,2097],[2034,2050,2033,2049],[2033,2062,2025,2061],[2077,2090,2075,2085],[2127,2135,2091,2111],
  [2095,2095,2095,2095],[2125,2125,2109,2109],[2074,2074,2069,2069],[2023,2023,2023,2023],[2073,2073,2073,2073],
  [2002,2024,2001,2023],[2015,2015,2015,2015],[2008,2010,1979,1980],[1942,1942,1942,1942],[1930,1931,1876,1883],
  [1890,1981,1889,1980],[1995,1995,1995,1995],[1945,1945,1945,1945],[1960,1960,1960,1960],[2057,2058,2046,2047],
  [2067,2068,2045,2046],[2039,2048,2038,2047],[2114,2114,2114,2114],[2111,2111,2111,2111],[2131,2198,2130,2188],
  [2083,2083,2083,2083],[1981,1981,1981,1981],[1968,1968,1968,1968],[1933,1933,1933,1933],[1950,1950,1950,1950],
  [1955,1955,1955,1955],[1931,1931,1931,1931],[1942,1942,1942,1942],[1912,1919,1910,1918],[1899,1947,1883,1922],
  [1921,1921,1921,1921],[1921,1921,1921,1921],[1938,1938,1938,1938],[1868,1868,1868,1868],[1893,1893,1893,1893],
  [1789,1789,1789,1789],[1749,1749,1749,1749],[1706,1706,1706,1706],[1686,1686,1686,1686],[1681,1682,1659,1660],
  [1709,1709,1709,1709],[1769,1769,1769,1769],[1812,1812,1812,1812],[1789,1789,1789,1789],[1704,1704,1704,1704],
  [1669,1669,1669,1669],[1659,1659,1659,1659],[1578,1578,1578,1578],[1601,1601,1601,1601],[1629,1629,1629,1629],
];

const SHANGHAI: Candle[] = [
  [4130,4143,4120,4136],[4145,4160,4125,4133],[4124,4158,4100,4140],[4150,4170,4137,4152],[4156,4170,4140,4158],
  [4133,4152,4065,4117],[4080,4103,4010,4013],[4043,4068,4003,4068],[4063,4104,4062,4102],[4074,4088,4048,4075],
  [4040,4085,4030,4066],[4103,4124,4093,4123],[4126,4135,4118,4128],[4124,4142,4121,4131],[4136,4140,4122,4133],
  [4115,4124,4080,4081],[4130,4132,4106,4117],[4123,4168,4122,4146],[4150,4152,4125,4146],[4129,4166,4128,4162],
  [4151,4188,4127,4182],[4189,4197,4117,4122],[4087,4104,4053,4082],[4110,4125,4093,4108],[4085,4128,4083,4125],
  [4099,4104,4053,4096],[4098,4126,4097,4124],[4123,4136,4113,4133],[4133,4140,4104,4129],[4118,4134,4087,4095],
  [4092,4093,4048,4084],[4085,4108,4048,4048],[4052,4066,4022,4063],[4028,4040,3993,4005],[4004,4027,3954,3955],
  [3905,3906,3792,3812],[3848,3882,3806,3882],[3891,3933,3890,3932],[3925,3936,3877,3887],[3851,3922,3850,3913],
  [3883,3925,3872,3924],[3924,3947,3890,3891],[3938,3953,3930,3947],[3940,3951,3900,3918],[3927,3930,3871,3879],
  [3883,3903,3873,3889],[3928,3997,3925,3995],[3967,3978,3955,3965],[3985,4010,3983,3987],[3970,3990,3965,3989],
  [4006,4027,3990,4026],[4038,4050,4020,4026],[4028,4057,4026,4056],[4042,4058,4035,4053],[4052,4083,4051,4082],
  [4074,4090,4060,4085],[4074,4108,4072,4106],[4111,4115,4058,4092],[4081,4092,4060,4079],[4074,4090,4068,4087],
  [4076,4082,4060,4079],[4061,4110,4060,4107],[4107,4118,4102,4112],[4135,4166,4130,4160],[4168,4181,4163,4180],
  [4163,4182,4155,4180],[4200,4230,4185,4225],[4229,4231,4195,4214],[4192,4245,4190,4242],[4257,4258,4175,4176],
  [4174,4190,4112,4135],[4120,4145,4108,4132],[4122,4172,4106,4170],[4152,4172,4108,4163],[4174,4199,4073,4076],
  [4096,4120,4066,4113],[4125,4155,4122,4153],[4137,4150,4110,4146],[4138,4153,4077,4093],[4079,4108,4055,4099],
  [4111,4112,4057,4067],[4067,4080,4045,4057],[4061,4088,4032,4076],[4067,4104,4060,4084],[4053,4081,4043,4058],
  [4044,4080,4015,4026],[3938,4006,3928,3959],[3977,4011,3955,4010],[3984,4006,3962,3992],[3980,3994,3958,3987],
  [4017,4059,4008,4032],[4051,4098,4050,4096],[4094,4104,4079,4091],[4074,4110,4073,4108],[4094,4117,4086,4090],
  [4093,4165,4070,4164],[4154,4174,4104,4105],[4090,4117,4075,4111],[4103,4133,4095,4120],[4099,4100,4008,4026],
];

const SENSEX: Candle[] = [
  [81820,82450,81750,82300],[82340,82650,81700,82550],[81880,82400,81850,82240],[80510,81700,80400,81640],[85300,85850,83500,83640],
  [83210,83950,83050,83820],[83730,83800,83050,83270],[83210,83600,82950,83580],[84150,84300,83850,84000],[84090,84450,83950,84200],
  [84270,84400,84000,84150],[84000,84020,83500,83640],[82870,83100,82500,82580],[82450,83300,82250,83270],[83130,83600,82900,83390],
  [83490,83750,83100,83700],[83960,84000,82250,82420],[82180,83100,82150,82790],[82850,83450,82800,83270],[83000,83050,81950,82180],
  [82490,82950,82050,82220],[82390,82550,82000,82180],[82180,82200,81100,81210],[78490,80600,78450,80210],[78460,79600,78300,79070],
  [79460,80300,79300,79980],[79640,79700,78750,78820],[76990,77650,76400,77520],[78300,78550,77600,78150],[78240,78300,76700,76790],
  [76300,76600,75800,75960],[75400,75500,74400,74490],[74340,75800,73900,75460],[75730,76300,75300,76020],[76280,76950,76200,76630],
  [74670,75300,73900,74120],[74510,75300,74300,74450],[73660,73700,72400,72510],[74170,74400,73000,74000],[74550,76000,74500,75210],
  [74830,74850,73400,73480],[72490,73150,71700,71860],[73700,73950,72900,73070],[72180,73500,71500,73270],[73400,74150,72700,74070],
  [73640,74650,73300,74580],[77210,77600,77000,77520],[77270,77300,76300,76550],[77060,77600,76800,77520],[75840,76800,75750,76790],
  [77920,78250,77750,78060],[78640,78650,77650,77920],[77920,78600,77750,78460],[78610,78900,78200,78450],[78520,79350,78500,79240],
  [78970,79000,78400,78430],[77940,78150,77550,77580],[77430,77700,76400,76610],[76790,77350,76700,77270],[77030,77300,76700,76810],
  [77150,78000,77100,77430],[76970,77350,76250,76830],[77200,77850,76900,77210],[77060,77200,76450,76950],[77330,78000,76750,77920],
  [78300,78400,77700,77780],[77580,77600,77050,77250],[76610,76650,75900,75920],[75640,75700,74350,74460],[74360,75200,74100,74580],
  [74870,75400,74500,75330],[75460,75700,75100,75150],[74730,75400,73900,75270],[75360,75700,75000,75120],[74730,75400,74500,75270],
  [75700,75900,74950,75090],[75210,75700,75150,75370],[76060,76550,76000,76450],[76180,76600,75800,75880],[75880,76100,75600,75730],
  [75940,76200,74500,74690],[75150,75450,74100,74150],[73820,74850,73700,74610],[74460,74500,73450,74270],[73850,74400,73600,74330],
  [74580,74700,73950,74120],[73330,73900,73250,73480],[73970,74000,73400,73850],[73910,74600,73800,73850],[73520,74300,73450,73790],
  [74630,75550,74400,75490],[76670,76800,76100,76180],[76420,76800,76350,76750],[77010,77250,76700,77150],[77060,77500,76900,77370],
  [76810,76900,76500,76750],[77120,77300,76950,77010],[77060,77150,76050,76120],[76150,77200,76100,76940],[77330,77850,76950,77010],
];

type PanelCfg = {
  title: string;
  data: Candle[];
  dates: string[];
  step: number;
  decimals: number;
  offset?: string;
};

const PANELS: PanelCfg[] = [
  { title: "日経平均株価", data: NIKKEI, dates: NIKKEI_DATES, step: 5000, decimals: 0 },
  { title: "NYダウ平均", data: DOW, dates: DOW_DATES, step: 1000, decimals: 0 },
  { title: "米10年国債利回り", data: UST10Y, dates: UST10Y_DATES, step: 0.1, decimals: 1 },
  { title: "VIX指数", data: VIX, dates: VIX_DATES, step: 2.5, decimals: 1 },
  { title: "ビットコイン (BTC/JPY)", data: BTC, dates: CRYPTO_DATES, step: 0.05, decimals: 2, offset: "1e7" },
  { title: "イーサリアム (ETH/JPY)", data: ETH, dates: CRYPTO_DATES, step: 20000, decimals: 0 },
  { title: "WTI原油", data: WTI, dates: COMMODITY_DATES, step: 10, decimals: 0 },
  { title: "金 (Gold)", data: GOLD, dates: COMMODITY_DATES, step: 200, decimals: 0 },
  { title: "銀 (Silver)", data: SILVER, dates: COMMODITY_DATES, step: 5, decimals: 0 },
  { title: "白金 (Platinum)", data: PLATINUM, dates: COMMODITY_DATES, step: 100, decimals: 0 },
  { title: "上海総合指数", data: SHANGHAI, dates: SHANGHAI_DATES, step: 100, decimals: 0 },
  { title: "インド SENSEX", data: SENSEX, dates: SENSEX_DATES, step: 2000, decimals: 0 },
];

// layout
const AX_W = 768;
const AX_H = 435;
const COL_X = [94, 998, 1901];
const ROW_Y = [157, 716, 1277, 1836];
const PAD_L = 130;
const PAD_T = 60;
const PAD_R = 20;
const PAD_B = 80;
const X_MIN = -6.05;
const X_MAX = 105.05;
const X_TICK_STEP = 20;
const X_TICK_COUNT = 6;
const TICK_FONT = 21;
const TITLE_FONT = 24;

function Panel({ cfg, left, top }: { cfg: PanelCfg; left: number; top: number }) {
  const ref = useRef<HTMLCanvasElement | null>(null);

  useEffect(() => {
    const canvas = ref.current;
    if (!canvas) return;
    const data = cfg.data;
    let lo = Infinity;
    let hi = -Infinity;
    data.forEach((c) => {
      lo = Math.min(lo, c[2]);
      hi = Math.max(hi, c[1]);
    });
    const m = (hi - lo) * 0.05;
    const yMin = lo - m;
    const yMax = hi + m;
    const colors = data.map((c) => (c[3] > c[0] ? UP : DOWN));
    const wicks = data.map((c, i) => ({ x: i, y: [c[2], c[1]] }));
    const bodies = data.map((c, i) => ({ x: i, y: [Math.min(c[0], c[3]), Math.max(c[0], c[3])] }));

    const decor = {
      id: "decor",
      afterDraw(chart: any) {
        const { ctx, chartArea: a } = chart;
        ctx.save();
        ctx.strokeStyle = "#000";
        ctx.lineWidth = 1.6;
        ctx.strokeRect(a.left, a.top, a.right - a.left, a.bottom - a.top);
        ctx.fillStyle = "#000";
        ctx.font = `${TITLE_FONT}px ${FONT}`;
        ctx.textAlign = "center";
        ctx.textBaseline = "alphabetic";
        ctx.fillText(cfg.title, (a.left + a.right) / 2, a.top - 13);
        const xs = chart.scales.x;
        ctx.font = `${TICK_FONT}px ${FONT}`;
        const ang = (15 * Math.PI) / 180;
        cfg.dates.forEach((d, j) => {
          const px = xs.getPixelForValue(j * X_TICK_STEP);
          ctx.save();
          ctx.translate(px, a.bottom + 40);
          ctx.rotate(-ang);
          ctx.textAlign = "center";
          ctx.textBaseline = "middle";
          ctx.fillText(d, 0, 0);
          ctx.restore();
        });
        if (cfg.offset) {
          ctx.textAlign = "left";
          ctx.textBaseline = "alphabetic";
          ctx.fillText(cfg.offset, a.left, a.top - 5);
        }
        ctx.restore();
      },
    };

    const gridOpts = {
      display: true,
      offset: false,
      drawOnChartArea: false,
      drawTicks: true,
      tickLength: 7,
      tickWidth: 1.5,
      tickColor: "#000",
      color: "#000",
    };

    const chart = new Chart(canvas, {
      type: "bar",
      data: {
        datasets: [
          {
            data: wicks as any,
            backgroundColor: colors,
            barThickness: 1.3,
            grouped: false,
            borderWidth: 0,
            order: 2,
          } as any,
          {
            data: bodies as any,
            backgroundColor: colors,
            barThickness: 5,
            grouped: false,
            borderWidth: 0,
            minBarLength: 2,
            order: 1,
          } as any,
        ],
      },
      options: {
        animation: false,
        responsive: false,
        devicePixelRatio: 1,
        events: [],
        layout: { padding: { left: 0, top: PAD_T, right: PAD_R, bottom: 0 } },
        plugins: {
          legend: { display: false },
          tooltip: { enabled: false },
          title: { display: false },
        },
        scales: {
          x: {
            type: "linear",
            min: X_MIN,
            max: X_MAX,
            offset: false,
            grid: gridOpts as any,
            border: { display: false },
            ticks: { callback: () => "", autoSkip: false, maxRotation: 0 },
            afterBuildTicks: (s: any) => {
              const t = [];
              for (let k = 0; k < X_TICK_COUNT; k++) t.push({ value: k * X_TICK_STEP });
              s.ticks = t;
            },
            afterFit: (s: any) => {
              s.height = PAD_B;
              s.paddingLeft = 0;
              s.paddingRight = 0;
            },
          },
          y: {
            type: "linear",
            min: yMin,
            max: yMax,
            grid: gridOpts as any,
            border: { display: false },
            ticks: {
              autoSkip: false,
              color: "#000",
              padding: 7,
              font: { family: FONT, size: TICK_FONT },
              callback: (v: any) => Number(v).toFixed(cfg.decimals),
            },
            afterBuildTicks: (s: any) => {
              const t = [];
              const k0 = Math.ceil(yMin / cfg.step - 1e-9);
              const k1 = Math.floor(yMax / cfg.step + 1e-9);
              for (let k = k0; k <= k1; k++) t.push({ value: k * cfg.step });
              s.ticks = t;
            },
            afterFit: (s: any) => {
              s.width = PAD_L;
              s.paddingTop = 0;
              s.paddingBottom = 0;
            },
          },
        },
      } as any,
      plugins: [decor],
    });
    return () => chart.destroy();
  }, [cfg]);

  const w = PAD_L + AX_W + PAD_R;
  const h = PAD_T + AX_H + PAD_B;
  return (
    <canvas
      ref={ref}
      width={w}
      height={h}
      style={{ position: "absolute", left: left - PAD_L, top: top - PAD_T, width: w, height: h }}
    />
  );
}

export default function App() {
  return (
    <div
      style={{
        position: "absolute",
        left: 0,
        top: 0,
        width: 2685,
        height: 2336,
        background: "#fff",
        overflow: "hidden",
      }}
    >
      <div
        style={{
          position: "absolute",
          left: 0,
          top: 8,
          width: 2685,
          textAlign: "center",
          fontFamily: FONT,
          fontSize: 44,
          lineHeight: "44px",
          color: "#000",
          whiteSpace: "nowrap",
        }}
      >
        {SUPTITLE}
      </div>
      {PANELS.map((p, i) => (
        <Panel key={i} cfg={p} left={COL_X[i % 3]} top={ROW_Y[Math.floor(i / 3)]} />
      ))}
    </div>
  );
}
